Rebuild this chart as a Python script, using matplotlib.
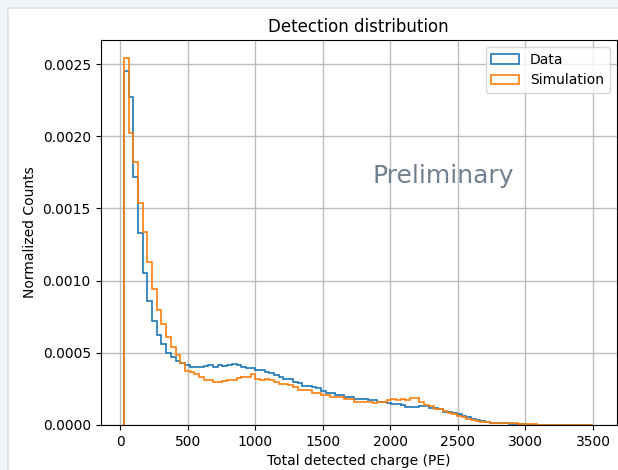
import numpy as np
import matplotlib
matplotlib.use("Agg")
import matplotlib.pyplot as plt
from matplotlib.patches import Rectangle

# ---- data (normalized counts, units of 1e-4) ----
bin_low = 28.0
bin_high = 3500.0
n_bins = 100

data_vals = [
    24.55, 22.70, 17.20, 13.30, 10.50, 8.60, 7.20, 6.20, 5.60, 5.00,
    4.68, 4.45, 4.31, 4.15, 3.99, 3.99, 4.03, 4.08, 4.15, 4.03,
    4.15, 4.08, 4.15, 4.26, 4.15, 4.03, 3.94, 3.94, 3.80, 3.80,
    3.68, 3.57, 3.46, 3.34, 3.20, 3.16, 2.99, 2.88, 2.72, 2.70,
    2.61, 2.58, 2.37, 2.22, 2.19, 2.08, 2.05, 1.96, 1.94, 1.82,
    1.80, 1.78, 1.73, 1.72, 1.58, 1.57, 1.55, 1.45, 1.43, 1.42,
    1.28, 1.27, 1.26, 1.31, 1.30, 1.16, 1.15, 1.12, 0.93, 0.90,
    0.82, 0.76, 0.65, 0.55, 0.45, 0.38, 0.27, 0.23, 0.17, 0.15,
    0.12, 0.11, 0.08, 0.07, 0.05, 0.04, 0.03, 0.02, 0.015, 0.01,
    0.008, 0.006, 0.004, 0.003, 0.002, 0.002, 0.001, 0.001, 0.0, 0.0,
]

sim_vals = [
    25.40, 20.20, 18.25, 15.40, 13.40, 11.30, 9.40, 8.00, 6.98, 6.10,
    5.40, 4.82, 4.32, 3.72, 3.66, 3.52, 3.34, 3.11, 3.10, 2.99,
    2.98, 3.02, 3.11, 3.10, 3.23, 3.34, 3.32, 3.52, 3.16, 3.15,
    3.16, 3.12, 2.99, 2.85, 2.82, 2.80, 2.61, 2.45, 2.42, 2.40,
    2.23, 2.22, 2.07, 2.06, 1.96, 1.95, 1.94, 1.80, 1.79, 1.62,
    1.61, 1.60, 1.58, 1.50, 1.61, 1.62, 1.73, 1.80, 1.73, 1.80,
    1.76, 1.84, 1.86, 1.61, 1.40, 1.34, 1.12, 1.08, 0.95, 0.82,
    0.75, 0.62, 0.55, 0.45, 0.38, 0.30, 0.24, 0.18, 0.16, 0.15,
    0.12, 0.12, 0.11, 0.12, 0.08, 0.06, 0.06, 0.04, 0.03, 0.02,
    0.015, 0.01, 0.008, 0.006, 0.005, 0.004, 0.003, 0.002, 0.002, 0.002,
]

labels = ["Data", "Simulation"]
title = "Detection distribution"
xlabel = "Total detected charge (PE)"
ylabel = "Normalized Counts"
watermark = "Preliminary"

edges = np.linspace(bin_low, bin_high, n_bins + 1)
centers = 0.5 * (edges[:-1] + edges[1:])
data_w = np.array(data_vals) * 1e-4
sim_w = np.array(sim_vals) * 1e-4

W, H = 618, 470
fig = plt.figure(figsize=(W / 100, H / 100), dpi=100)
fig.patch.set_facecolor("#f1f4f8")
fig.add_artist(Rectangle((8 / W, -0.01), 1.0, 1 - 8 / H + 0.01,
                         transform=fig.transFigure, facecolor="white",
                         edgecolor="#dde3ea", linewidth=1.2, zorder=-10))

ax = fig.add_axes([100.5 / W, 45 / H, 516.0 / W, 385 / H])
ax.hist(centers, bins=edges, weights=data_w, histtype="step",
        linewidth=1.2, label=labels[0])
ax.hist(centers, bins=edges, weights=sim_w, histtype="step",
        linewidth=1.2, label=labels[1])

ax.set_title(title)
ax.set_xlabel(xlabel)
ax.set_ylabel(ylabel)
ax.grid(True, linewidth=1.0, color="#bdbdbd")
ax.legend(loc="upper right")
ax.text(0.664, 0.647, watermark, transform=ax.transAxes, fontsize=18,
        color="slategray", ha="center", va="center")

fig.savefig("out.png", dpi=100, facecolor=fig.get_facecolor())
